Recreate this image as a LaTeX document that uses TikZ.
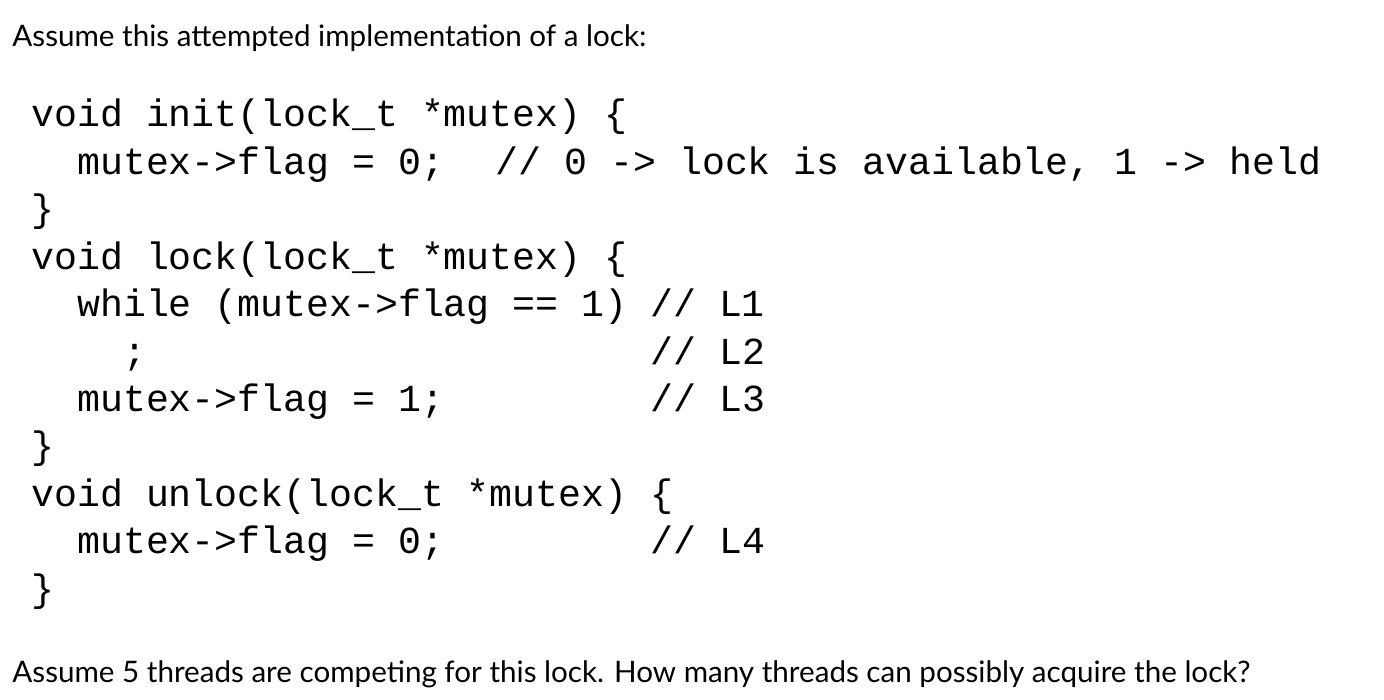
\documentclass[tikz,border=0pt]{standalone}
\usepackage{fontspec}
\setmainfont{Lato}
\setmonofont{Liberation Mono}
\begin{document}
\begin{tikzpicture}[x=1pt,y=1pt,
  prose/.style={anchor=base west,inner sep=0pt,font=\fontsize{14.8pt}{17pt}\selectfont},
  code/.style={anchor=base west,inner sep=0pt,font=\ttfamily\fontsize{19.1pt}{22pt}\selectfont}]
\useasboundingbox[fill=white] (0,0) rectangle (692,-350);
\node[prose] (h) at (6,-23.5) {Assume this attempted implementation of a lock:};
\def\lh{23.7}
\foreach \t [count=\i from 0] in {
 {void init(lock\_t *mutex) \{},
 {\ \ mutex->flag = 0;\ \ \hspace{3pt}// 0 -> lock is available, 1 -> held},
 {\}},
 {void lock(lock\_t *mutex) \{},
 {\ \ while (mutex->flag == 1) // L1},
 {\ \ \ \ ;\ \ \ \ \ \ \ \ \ \ \ \ \ \ \ \ \ \ \ \ \ \ // L2},
 {\ \ mutex->flag = 1;\ \ \ \ \ \ \ \ \ // L3},
 {\}},
 {void unlock(lock\_t *mutex) \{},
 {\ \ mutex->flag = 0;\ \ \ \ \ \ \ \ \ // L4},
 {\}}}
  \node[code] (c\i) at (15.5,{-63.5-\i*\lh}) {\t};
\node[prose] (q) at (6,-341) {Assume 5 threads are competing for this lock. How many threads can possibly acquire the lock?};
\end{tikzpicture}
\end{document}
